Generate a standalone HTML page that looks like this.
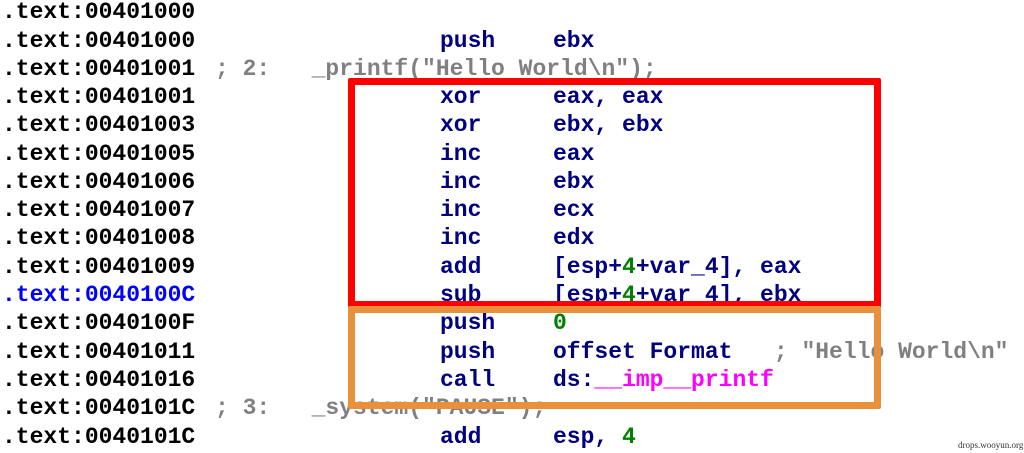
<!DOCTYPE html>
<html><head><meta charset="utf-8"><style>
body{margin:0;width:1024px;height:453px;background:#fff;position:relative;overflow:hidden;font-family:"Liberation Mono",monospace;font-weight:bold;font-size:23px;}
.r{position:absolute;left:0;height:28px;line-height:28px;white-space:pre;}
.a{position:absolute;left:2px;color:#000;}
.m{position:absolute;left:440px;color:#000080;}
.o{position:absolute;left:553px;color:#000080;}
.c{position:absolute;left:215px;color:#808080;}
.g{color:#008000}.p{color:#ff00ff}.y{color:#808080}
.box{position:absolute;box-sizing:border-box;border-radius:2px;}
</style></head><body>
<div class="r" style="top:-2px"><span class="a">.text:00401000</span></div>
<div class="r" style="top:27px"><span class="a">.text:00401000</span><span class="m">push</span><span class="o">ebx</span></div>
<div class="r" style="top:55px"><span class="a">.text:00401001</span><span class="c">; 2:   _printf("Hello World\n");</span></div>
<div class="r" style="top:83px"><span class="a">.text:00401001</span><span class="m">xor</span><span class="o">eax, eax</span></div>
<div class="r" style="top:111px"><span class="a">.text:00401003</span><span class="m">xor</span><span class="o">ebx, ebx</span></div>
<div class="r" style="top:140px"><span class="a">.text:00401005</span><span class="m">inc</span><span class="o">eax</span></div>
<div class="r" style="top:168px"><span class="a">.text:00401006</span><span class="m">inc</span><span class="o">ebx</span></div>
<div class="r" style="top:196px"><span class="a">.text:00401007</span><span class="m">inc</span><span class="o">ecx</span></div>
<div class="r" style="top:224px"><span class="a">.text:00401008</span><span class="m">inc</span><span class="o">edx</span></div>
<div class="r" style="top:253px"><span class="a">.text:00401009</span><span class="m">add</span><span class="o">[esp+<span class="g">4</span>+var_4], eax</span></div>
<div class="r" style="top:281px"><span class="a" style="color:#0000ff">.text:0040100C</span><span class="m">sub</span><span class="o">[esp+<span class="g">4</span>+var_4], ebx</span></div>
<div class="r" style="top:309px"><span class="a">.text:0040100F</span><span class="m">push</span><span class="o g">0</span></div>
<div class="r" style="top:338px"><span class="a">.text:00401011</span><span class="m">push</span><span class="o">offset Format   <span class="y">; "Hello World\n"</span></span></div>
<div class="r" style="top:366px"><span class="a">.text:00401016</span><span class="m">call</span><span class="o">ds:<span class="p">__imp__printf</span></span></div>
<div class="r" style="top:394px"><span class="a">.text:0040101C</span><span class="c">; 3:   _system("PAUSE");</span></div>
<div class="r" style="top:423px"><span class="a">.text:0040101C</span><span class="m">add</span><span class="o">esp, <span class="g">4</span></span></div>
<div class="box" style="left:348px;top:78px;width:533px;height:230px;border:7px solid #ff0000;"></div>
<div class="box" style="left:348px;top:306px;width:533px;height:103px;border:7px solid #e8913a;"></div>
<div style="position:absolute;left:958px;top:440px;font:normal 9px 'Liberation Serif',serif;color:#333;">drops.wooyun.org</div>
</body></html>
